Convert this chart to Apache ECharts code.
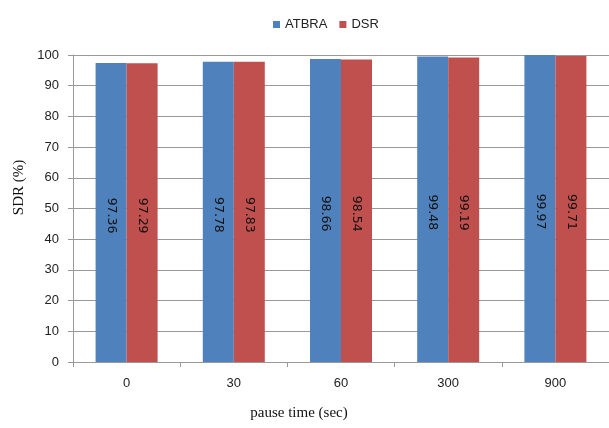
<!DOCTYPE html>
<html><head><meta charset="utf-8">
<script src="https://cdn.jsdelivr.net/npm/echarts@6/dist/echarts.min.js"></script>
<style>html,body{margin:0;padding:0;background:#fff}#c{width:609px;height:428px}</style>
</head><body><div id="c"></div>
<script>
const categories = ['0', '30', '60', '300', '900'];
const atbra = [97.36, 97.78, 98.66, 99.48, 99.97];
const dsr = [97.29, 97.83, 98.54, 99.19, 99.71];
const seriesNames = ['ATBRA', 'DSR'];
const colors = ['#4F81BD', '#C0504D'];

const chart = echarts.init(document.getElementById('c'), null, {renderer: 'canvas'});
const lbl = {
  show: true, position: 'inside', rotate: -90, offset: [3, 0],
  fontFamily: 'DejaVu Sans, Verdana, sans-serif', fontSize: 12.5, color: '#111',
  formatter: p => p.value.toFixed(2)
};
chart.setOption({
  animation: false,
  color: colors,
  legend: {
    top: 13, left: 268, itemWidth: 7, itemHeight: 7, itemGap: 12,
    icon: 'rect',
    textStyle: {fontFamily: 'Liberation Sans, Arial, sans-serif', fontSize: 13, color: '#222'},
    data: seriesNames
  },
  grid: {left: 73, right: 0, top: 55, bottom: 66, containLabel: false},
  xAxis: {
    type: 'category', data: categories,
    name: 'pause time (sec)', nameLocation: 'middle', nameGap: 44,
    nameTextStyle: {fontFamily: 'Liberation Serif, Times New Roman, serif', fontSize: 15, color: '#111', padding: [0, 84, 0, 0]},
    axisLine: {lineStyle: {color: '#999', width: 1}},
    axisTick: {show: true, alignWithLabel: false, length: 5, lineStyle: {color: '#999'}},
    axisLabel: {margin: 15, fontFamily: 'Liberation Sans, Arial, sans-serif', fontSize: 13, color: '#222'}
  },
  yAxis: {
    type: 'value', min: 0, max: 100, interval: 10,
    name: 'SDR (%)', nameLocation: 'middle', nameGap: 43, nameRotate: 90,
    nameTextStyle: {fontFamily: 'Liberation Serif, Times New Roman, serif', fontSize: 15, color: '#111', padding: [0, 0, 0, 42]},
    axisLine: {show: true, lineStyle: {color: '#999', width: 1}},
    axisTick: {show: true, length: 5, lineStyle: {color: '#999'}},
    axisLabel: {margin: 14, fontFamily: 'Liberation Sans, Arial, sans-serif', fontSize: 13, color: '#222'},
    splitLine: {lineStyle: {color: '#999', width: 1}}
  },
  series: [
    {name: seriesNames[0], type: 'bar', data: atbra, barWidth: 31, barGap: '0%', label: lbl},
    {name: seriesNames[1], type: 'bar', data: dsr, barWidth: 31, barGap: '0%', label: lbl}
  ]
});
</script></body></html>
